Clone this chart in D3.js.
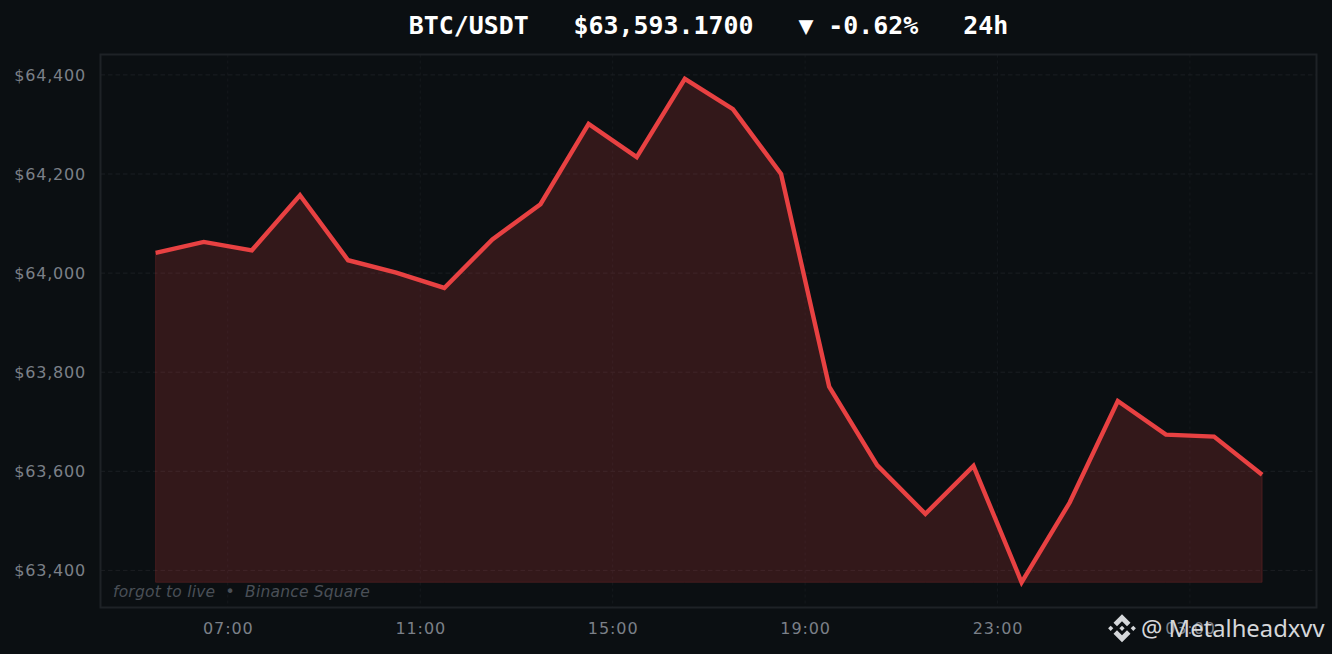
<!DOCTYPE html>
<html>
<head>
<meta charset="utf-8">
<script src="https://cdn.jsdelivr.net/npm/d3@7"></script>
<style>
html, body { margin: 0; padding: 0; background: #0b0f12; overflow: hidden; }
svg { display: block; }
</style>
</head>
<body>
<div id="chart"></div>
<script>
// hourly closes, 05:30 through 04:30 next day
const times = ['05:30','06:30','07:30','08:30','09:30','10:30','11:30','12:30','13:30','14:30','15:30','16:30',
  '17:30','18:30','19:30','20:30','21:30','22:30','23:30','00:30','01:30','02:30','03:30','04:30']
const prices = [64041,64063,64046,64157,64026,64001,63970,64068,64139,64301,64234,64392,
  64331,64200,63771,63612,63514,63611,63376,63537,63742,63674,63670,63593]
const yTicks = [63400,63600,63800,64000,64200,64400]
const xTickLabels = ['07:00','11:00','15:00','19:00','23:00','03:00']
const xTickHours = [1.5,5.5,9.5,13.5,17.5,21.5]

const w = 1332
const h = 654
const margin = { top: 54.5, right: 15.5, bottom: 46.5, left: 100.5 }
const innerRight = w - margin.right
const innerBottom = h - margin.bottom
const sans = '"DejaVu Sans", sans-serif'

const svg = d3.select('#chart')
  .append('svg')
  .attr('width', w)
  .attr('height', h)

const xScale = d3.scaleLinear()
  .domain([-1.146, 24.13])
  .range([margin.left, innerRight])

const yScale = d3.scaleLinear()
  .domain([63400, 64400])
  .range([570.4, 74.9])

// grid
svg.append('g').selectAll('line').data(xTickHours).enter().append('line')
  .attr('x1', d => xScale(d)).attr('x2', d => xScale(d))
  .attr('y1', margin.top).attr('y2', innerBottom)
  .attr('stroke', '#15191d').attr('stroke-width', 1).attr('stroke-dasharray', '3 3')

svg.append('g').selectAll('line').data(yTicks).enter().append('line')
  .attr('x1', margin.left).attr('x2', innerRight)
  .attr('y1', d => yScale(d)).attr('y2', d => yScale(d))
  .attr('stroke', '#1b1f23').attr('stroke-width', 1).attr('stroke-dasharray', '4.5 3')

// area and line
const hours = times.map((t, i) => i)
const base = d3.min(prices)

const area = d3.area()
  .x(i => xScale(i))
  .y0(yScale(base))
  .y1(i => yScale(prices[i]))

svg.append('path')
  .datum(hours)
  .attr('d', area)
  .attr('fill', '#e84142')
  .attr('fill-opacity', 0.18)
  .attr('stroke', '#e84142')
  .attr('stroke-opacity', 0.2)
  .attr('stroke-width', 1)

const line = d3.line()
  .x(i => xScale(i))
  .y(i => yScale(prices[i]))

svg.append('path')
  .datum(hours)
  .attr('d', line)
  .attr('fill', 'none')
  .attr('stroke', '#e84142')
  .attr('stroke-width', 4.4)
  .attr('stroke-linejoin', 'miter')
  .attr('stroke-miterlimit', 4)

// frame
svg.append('rect')
  .attr('x', margin.left).attr('y', margin.top)
  .attr('width', innerRight - margin.left).attr('height', innerBottom - margin.top)
  .attr('fill', 'none').attr('stroke', '#1e2226').attr('stroke-width', 2)

// axes
const xAxis = d3.axisBottom(xScale)
  .tickValues(xTickHours)
  .tickFormat((d, i) => xTickLabels[i])
  .tickSize(0)
  .tickPadding(0)

const xG = svg.append('g')
  .attr('transform', 'translate(0,' + innerBottom + ')')
  .call(xAxis)
xG.select('.domain').remove()
xG.selectAll('text')
  .attr('y', 15.5)
  .attr('font-family', sans).attr('font-size', 16)
  .attr('letter-spacing', 0.9)
  .attr('fill', '#7b8088')

const yAxis = d3.axisLeft(yScale)
  .tickValues(yTicks)
  .tickFormat(d => '$' + d3.format(',')(d))
  .tickSize(0)
  .tickPadding(14.5)

const yG = svg.append('g')
  .attr('transform', 'translate(' + margin.left + ',0)')
  .call(yAxis)
yG.select('.domain').remove()
yG.selectAll('text')
  .attr('font-family', sans).attr('font-size', 16)
  .attr('letter-spacing', 0.8)
  .attr('fill', '#7b8088')

// title
svg.append('text')
  .attr('x', 708.5).attr('y', 33.5)
  .attr('text-anchor', 'middle')
  .style('white-space', 'pre')
  .attr('font-family', '"DejaVu Sans Mono", monospace')
  .attr('font-weight', 'bold').attr('font-size', 24.9)
  .attr('fill', '#ffffff')
  .text('BTC/USDT   $63,593.1700   ▼ -0.62%   24h')

// caption
svg.append('text')
  .attr('x', 113).attr('y', 596.5)
  .attr('font-family', sans).attr('font-style', 'italic').attr('font-size', 15.5)
  .attr('letter-spacing', 0.2)
  .attr('fill', '#4a4f57')
  .style('white-space', 'pre')
  .text('forgot to live  •  Binance Square')

// binance logo + handle overlay
const logo = svg.append('g')
  .attr('transform', 'translate(1122,628.3)')
  .attr('fill', '#d5d7da')
logo.append('path').attr('d', 'M0,-14 L8.5,-5.5 L5,-2 L0,-7 L-5,-2 L-8.5,-5.5 Z')
logo.append('path').attr('d', 'M0,14 L8.5,5.5 L5,2 L0,7 L-5,2 L-8.5,5.5 Z')
logo.append('path').attr('d', 'M0,-2.6 L2.6,0 L0,2.6 L-2.6,0 Z')
logo.append('path').attr('d', 'M-11.3,-2.6 L-8.7,0 L-11.3,2.6 L-13.9,0 Z')
logo.append('path').attr('d', 'M11.3,-2.6 L13.9,0 L11.3,2.6 L8.7,0 Z')

svg.append('text')
  .attr('x', 1141).attr('y', 637)
  .attr('font-family', '"Noto Sans", sans-serif').attr('font-size', 23.8)
  .attr('fill', '#d5d7da')
  .text('@ Metalheadxvv')
</script>
</body>
</html>
